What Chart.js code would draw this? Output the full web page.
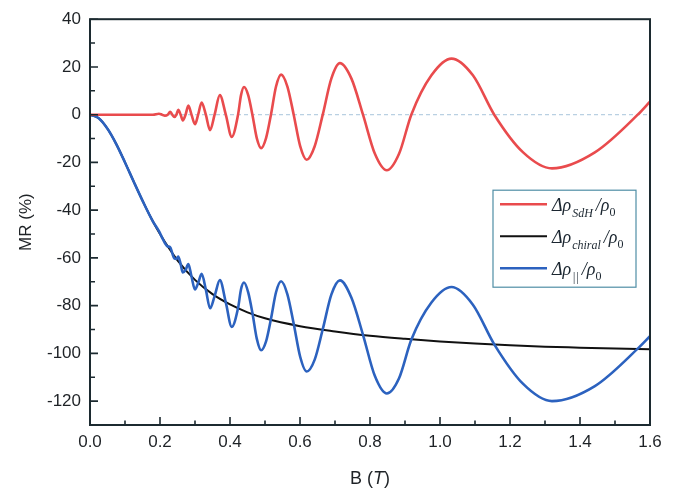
<!DOCTYPE html>
<html><head><meta charset="utf-8">
<script src="https://cdn.jsdelivr.net/npm/chart.js@4.4.1/dist/chart.umd.min.js"></script>
<style>html,body{margin:0;padding:0;background:#fff}#wrap{width:696px;height:494px;position:relative}</style>
</head><body><div id="wrap"><canvas id="c" width="696" height="494"></canvas></div>
<script>
// Magnetic field B (T) for the oscillating curves
const fieldB = [0,0.025,0.05,0.075,0.1,0.125,0.15,0.18,0.197,0.206,0.214,0.222,0.229,0.235,0.241,0.247,0.252,0.259,0.265,0.273,0.281,0.29,0.300,0.309,0.319,0.331,0.343,0.356,0.371,0.388,0.405,0.423,0.4315,0.440,0.452,0.464,0.4765,0.489,0.503,0.517,0.5315,0.546,0.564,0.582,0.6005,0.619,0.642,0.665,0.6895,0.714,0.747,0.780,0.814,0.848,0.883,0.918,0.9755,1.033,1.094,1.155,1.2375,1.32,1.4425,1.565,1.6];
// Δρ_SdH/ρ0 (%)
const sdh = [0,0,0,0,0,0,0,0,0.4,0,-0.4,0,1.2,0,-1.0,0,2.0,0,-2.4,0,3.8,0,-4.0,0,5.1,0,-6.5,0,8.2,0,-9.3,0,8.2,11.6,8.2,0,-9.8,-14.0,-9.8,0,11.8,16.8,11.8,0,-13.2,-18.9,-13.2,0,15.1,21.6,15.1,0,-16.4,-23.3,-16.4,0,16.5,23.5,16.5,0,-15.8,-22.5,-15.8,0,5.5];
// Δρ_∥/ρ0 (%)
const total = [0,-1.5,-5.9,-12.3,-20.0,-28.1,-36.0,-44.8,-48.8,-51.5,-53.8,-55.2,-55.5,-58.0,-60.2,-60.4,-59.4,-62.6,-66.1,-65.1,-62.6,-67.8,-73.2,-70.5,-66.7,-73.3,-81.1,-76.0,-69.3,-78.6,-88.9,-81.0,-73.1,-70.3,-74.4,-83.0,-93.8,-98.7,-95.0,-85.6,-74.4,-69.8,-75.3,-87.6,-101.4,-107.6,-102.6,-89.9,-75.4,-69.4,-76.7,-92.2,-109.5,-116.8,-110.4,-94.3,-78.7,-72.2,-79.6,-96.2,-112.8,-120.0,-113.7,-98.0,-92.8];
// Magnetic field B (T) and Δρ_chiral/ρ0 (%) for the smooth curve
const chiralB = [0,0.025,0.05,0.075,0.1,0.125,0.15,0.175,0.2,0.25,0.3,0.35,0.4,0.45,0.5,0.6,0.7,0.8,0.9,1.0,1.1,1.2,1.3,1.4,1.5,1.6];
const chiral = [0,-1.5,-5.9,-12.3,-20.0,-28.1,-36.0,-43.4,-50.0,-61.0,-69.2,-75.2,-79.5,-82.8,-85.3,-88.6,-90.8,-92.6,-93.9,-95.0,-95.9,-96.6,-97.2,-97.6,-98.0,-98.3];

const xTickValues = [0,0.2,0.4,0.6,0.8,1.0,1.2,1.4,1.6];
const xMinorValues = [0.1,0.3,0.5,0.7,0.9,1.1,1.3,1.5];
const yTickValues = [-120,-100,-80,-60,-40,-20,0,20,40];
const yMinorValues = [-110,-90,-70,-50,-30,-10,10,30];
const legendSubs = ['SdH','chiral','||'];
const seriesColors = ['#e94b4d','#111111','#2c62bf'];

const pts = (xs, arr) => xs.map((x, i) => ({x: x, y: arr[i]}));
const AXIS = '#1c2a30';

const decor = {
  id: 'decor',
  beforeDatasetsDraw(chart) {
    const {ctx, chartArea: a, scales: {y}} = chart;
    ctx.save();
    ctx.strokeStyle = '#b9d0e2';
    ctx.lineWidth = 1.2;
    ctx.setLineDash([4, 3]);
    const y0 = y.getPixelForValue(0);
    ctx.beginPath(); ctx.moveTo(a.left, y0); ctx.lineTo(a.right, y0); ctx.stroke();
    ctx.restore();
  },
  afterDraw(chart) {
    const {ctx, chartArea: a, scales: {x, y}} = chart;
    ctx.save();
    ctx.strokeStyle = AXIS;
    ctx.lineWidth = 1.6;
    ctx.beginPath();
    xTickValues.forEach(v => { const p = x.getPixelForValue(v); ctx.moveTo(p, a.bottom); ctx.lineTo(p, a.bottom - 8); });
    xMinorValues.forEach(v => { const p = x.getPixelForValue(v); ctx.moveTo(p, a.bottom); ctx.lineTo(p, a.bottom - 4.5); });
    yTickValues.forEach(v => { const p = y.getPixelForValue(v); ctx.moveTo(a.left, p); ctx.lineTo(a.left + 8, p); });
    yMinorValues.forEach(v => { const p = y.getPixelForValue(v); ctx.moveTo(a.left, p); ctx.lineTo(a.left + 5, p); });
    ctx.stroke();
    ctx.lineWidth = 2;
    ctx.strokeRect(a.left, a.top, a.right - a.left, a.bottom - a.top);

    // x axis title  B (T)
    ctx.fillStyle = '#1e2226';
    ctx.textBaseline = 'alphabetic';
    const cx = (a.left + a.right) / 2, by = 484;
    const f1 = '18px "Liberation Sans", Arial, sans-serif';
    const f2 = 'italic 18px "Liberation Sans", Arial, sans-serif';
    ctx.font = f1; const w1 = ctx.measureText('B (').width, w3 = ctx.measureText(')').width;
    ctx.font = f2; const w2 = ctx.measureText('T').width;
    let tx = cx - (w1 + w2 + w3) / 2;
    ctx.font = f1; ctx.fillText('B (', tx, by); tx += w1;
    ctx.font = f2; ctx.fillText('T', tx, by); tx += w2;
    ctx.font = f1; ctx.fillText(')', tx, by);

    // legend
    const L = a.right - 157, T = a.top + 171, W = 143, H = 97;
    ctx.lineWidth = 1.2;
    ctx.strokeStyle = '#4f8ea5';
    ctx.strokeRect(L, T, W, H);
    legendSubs.forEach((sub, i) => {
      const ly = T + 14 + i * 32;
      ctx.strokeStyle = seriesColors[i];
      ctx.lineWidth = i === 1 ? 2 : 2.6;
      ctx.beginPath(); ctx.moveTo(L + 7, ly); ctx.lineTo(L + 54, ly); ctx.stroke();
      ctx.fillStyle = '#1b2630';
      let px = L + 59; const base = ly + 7;
      const big = 'italic 18px "Liberation Serif", "DejaVu Serif", serif';
      const small = 'italic 12px "Liberation Serif", "DejaVu Serif", serif';
      ctx.font = big; ctx.fillText('Δρ', px, base); px += ctx.measureText('Δρ').width + 1;
      ctx.font = small; ctx.fillText(sub, px, base + 6); px += ctx.measureText(sub).width + 3;
      ctx.font = big; ctx.fillText('/ρ', px, base); px += ctx.measureText('/ρ').width;
      ctx.font = '12px "Liberation Serif", serif'; ctx.fillText('0', px, base + 5);
    });
    ctx.restore();
  }
};

new Chart(document.getElementById('c'), {
  type: 'line',
  data: {
    datasets: [
      {label: 'Δρ_SdH/ρ0', data: pts(fieldB, sdh), borderColor: seriesColors[0], borderWidth: 2.6, order: 1},
      {label: 'Δρ_chiral/ρ0', data: pts(chiralB, chiral), borderColor: seriesColors[1], borderWidth: 2, order: 3},
      {label: 'Δρ_∥/ρ0', data: pts(fieldB, total), borderColor: seriesColors[2], borderWidth: 2.6, order: 2}
    ]
  },
  options: {
    responsive: false,
    animation: false,
    layout: {padding: {left: 0, right: 46, top: 12, bottom: 0}},
    plugins: {legend: {display: false}, tooltip: {enabled: false}},
    elements: {point: {radius: 0}, line: {cubicInterpolationMode: 'monotone', fill: false}},
    scales: {
      x: {
        type: 'linear', min: 0, max: 1.6,
        grid: {display: false, drawTicks: false}, border: {display: false},
        afterBuildTicks: s => { s.ticks = xTickValues.map(v => ({value: v})); },
        afterFit: s => { s.height = 69; },
        ticks: {padding: 7, autoSkip: false, maxRotation: 0, color: '#1e2226',
          font: {family: '"Liberation Sans", Arial, sans-serif', size: 17},
          callback: v => Number(v).toFixed(1)}
      },
      y: {
        type: 'linear', min: -130, max: 40,
        grid: {display: false, drawTicks: false}, border: {display: false},
        afterBuildTicks: s => { s.ticks = yTickValues.map(v => ({value: v})); },
        afterFit: s => { s.width = 90; },
        ticks: {padding: 9, autoSkip: false, color: '#1e2226',
          font: {family: '"Liberation Sans", Arial, sans-serif', size: 17},
          callback: v => String(v)},
        title: {display: true, text: 'MR (%)', color: '#1e2226', padding: {top: 16, bottom: 0},
          font: {family: '"Liberation Sans", Arial, sans-serif', size: 17}}
      }
    }
  },
  plugins: [decor]
});
</script>
</body></html>
